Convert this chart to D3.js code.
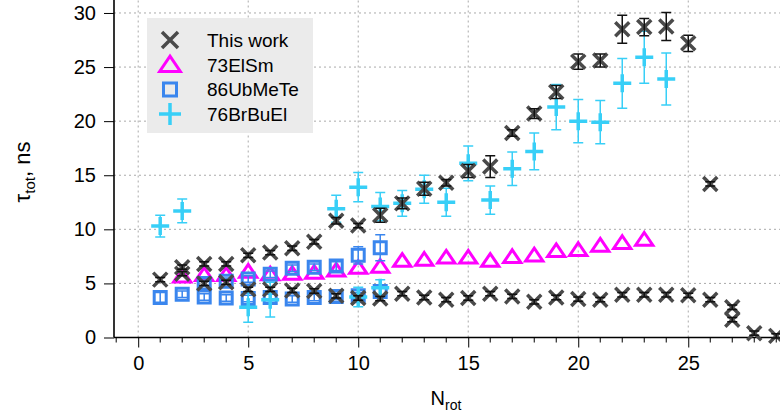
<!DOCTYPE html>
<html>
<head>
<meta charset="utf-8">
<script src="https://cdn.jsdelivr.net/npm/d3@7"></script>
<style>
  body { margin: 0; background: #fff; }
  text { font-family: "Liberation Sans", Arial, Helvetica, sans-serif; }
</style>
</head>
<body>
<div id="wrapper"></div>
<script>
const w = 780
const h = 412

// "This work" - upper and lower branches
const thisN = [1, 2, 3, 4, 5, 6, 7, 8, 9, 10, 11, 12, 13, 14, 15, 16, 17, 18, 19, 20, 21, 22, 23, 24, 25, 26,
  2, 3, 4, 5, 6, 7, 8, 9, 10, 11, 12, 13, 14, 15, 16, 17, 18, 19, 20, 21, 22, 23, 24, 25, 26, 27, 27, 28, 29]
const thisTau = [5.35, 6.5, 6.8, 6.8, 7.6, 7.85, 8.25, 8.85, 10.8, 10.35, 11.3, 12.4, 13.75, 14.3, 15.4, 15.8, 18.9, 20.7, 22.7, 25.5, 25.6, 28.5, 28.7, 28.75, 27.2, 14.2,
  5.9, 5.0, 5.1, 4.45, 4.45, 4.35, 4.3, 3.85, 3.65, 3.6, 4.05, 3.7, 3.5, 3.65, 4.05, 3.8, 3.3, 3.7, 3.55, 3.5, 3.95, 3.95, 3.95, 3.9, 3.5, 2.8, 1.65, 0.4, 0.15]
const thisErr = [0.2, 0.2, 0.2, 0.2, 0.2, 0.2, 0.2, 0.2, 0.3, 0.2, 0.65, 0.5, 0.6, 0.3, 0.6, 1.0, 0.3, 0.45, 0.6, 0.7, 0.6, 1.3, 0.8, 1.3, 0.75, 0.2,
  0.2, 0.2, 0.2, 0.2, 0.2, 0.2, 0.2, 0.2, 0.2, 0.2, 0.2, 0.2, 0.2, 0.2, 0.2, 0.2, 0.2, 0.2, 0.2, 0.2, 0.2, 0.2, 0.2, 0.2, 0.2, 0.2, 0.2, 0.2, 0.2]

// 73ElSm
const elsmN = [2, 3, 4, 5, 6, 7, 8, 9, 10, 11, 12, 13, 14, 15, 16, 17, 18, 19, 20, 21, 22, 23]
const elsmTau = [5.65, 5.8, 5.8, 6.1, 5.85, 5.9, 6.0, 6.2, 6.45, 6.55, 7.1, 7.2, 7.4, 7.4, 7.1, 7.45, 7.6, 8.0, 8.1, 8.5, 8.75, 9.05]

// 86UbMeTe
const ubN = [1, 2, 3, 4, 5, 6, 7, 8, 9, 10, 11, 3, 4, 5, 6, 7, 8, 9, 10, 11]
const ubTau = [3.7, 4.0, 3.75, 3.65, 3.6, 3.7, 3.55, 3.7, 3.8, 3.85, 4.25, 5.0, 5.2, 5.4, 5.85, 6.4, 6.5, 6.6, 7.6, 8.3]
const ubErr = [0.45, 0.3, 0.3, 0.3, 0.3, 0.3, 0.3, 0.3, 0.3, 0.3, 0.5, 0.3, 0.3, 0.3, 0.3, 0.3, 0.3, 0.4, 0.8, 1.2]

// 76BrBuEl
const brN = [1, 2, 5, 6, 9, 10, 10, 11, 11, 12, 13, 14, 15, 16, 17, 18, 19, 20, 21, 22, 23, 24]
const brTau = [10.3, 11.7, 2.8, 3.5, 11.9, 13.9, 3.75, 12.1, 4.6, 12.4, 13.7, 12.5, 16.1, 12.7, 15.6, 17.2, 21.3, 20.0, 19.9, 23.5, 25.9, 23.9]
const brErr = [1.0, 1.1, 1.4, 1.6, 1.25, 1.35, 0.9, 1.3, 0.75, 1.2, 1.3, 1.3, 1.6, 1.3, 1.55, 1.7, 2.1, 2.0, 2.0, 2.3, 2.4, 2.4]

const xTicks = [0, 5, 10, 15, 20, 25]
const yTicks = [0, 5, 10, 15, 20, 25, 30]
const legendNames = ['This work', '73ElSm', '86UbMeTe', '76BrBuEl']

const cThis = '#4a4a4a'
const cElsm = '#ff00ff'
const cUb = '#3a86ee'
const cBr = '#38cff7'

const x = d3.scaleLinear().domain([-1.1, 29.17]).range([114, 780])
const y = d3.scaleLinear().domain([0, 31.2]).range([337.5, 0])

const svg = d3.select('#wrapper').append('svg')
  .attr('width', w)
  .attr('height', h)

// dotted grid
svg.append('g').selectAll('line')
  .data(xTicks)
  .join('line')
  .attr('x1', d => x(d)).attr('x2', d => x(d))
  .attr('y1', y.range()[0]).attr('y2', 0)
  .attr('stroke', '#aaa').attr('stroke-width', 1).attr('stroke-dasharray', '2,3')
svg.append('g').selectAll('line')
  .data(yTicks.slice(1))
  .join('line')
  .attr('x1', x.range()[0]).attr('x2', w)
  .attr('y1', d => y(d)).attr('y2', d => y(d))
  .attr('stroke', '#aaa').attr('stroke-width', 1).attr('stroke-dasharray', '2,3')

// axes
const xAxis = svg.append('g')
  .attr('transform', `translate(0,${y.range()[0]})`)
  .call(d3.axisBottom(x).tickValues(xTicks).tickSize(10).tickPadding(8).tickFormat(d3.format('d')))
// minor ticks every unit
xAxis.append('g').selectAll('line')
  .data(d3.range(-1, 30).filter(d => d % 5 !== 0))
  .join('line')
  .attr('x1', d => x(d)).attr('x2', d => x(d))
  .attr('y1', 0).attr('y2', 5)
  .attr('stroke', '#000').attr('stroke-width', 1)

const yAxis = svg.append('g')
  .attr('transform', `translate(${x.range()[0]},0)`)
  .call(d3.axisLeft(y).tickValues(yTicks).tickSize(10).tickPadding(8))

for (const ax of [xAxis, yAxis]) {
  ax.select('.domain').attr('stroke-width', 1.6)
  ax.selectAll('.tick line').attr('stroke-width', 1)
  ax.selectAll('.tick text').style('font-size', '20px').attr('fill', '#000')
}
xAxis.select('.domain').attr('d', `M${x.range()[0]},0H${w}`)
yAxis.select('.domain').attr('d', `M0,${y.range()[0]}V0`)

// axis labels
const xl = svg.append('text')
  .attr('x', 446).attr('y', 405)
  .attr('text-anchor', 'middle')
  .style('font-size', '20px')
xl.append('tspan').text('N')
xl.append('tspan').attr('dy', 5).style('font-size', '14px').text('rot')

const yl = svg.append('text')
  .attr('transform', 'translate(30,172) rotate(-90)')
  .attr('text-anchor', 'middle')
  .style('font-size', '22px')
yl.append('tspan').text('τ')
yl.append('tspan').attr('dy', 5).style('font-size', '15px').text('tot')
yl.append('tspan').attr('dy', -5).text(', ns')

// error bars
function errorBars(ns, taus, errs, color) {
  const g = svg.append('g').attr('stroke', color).attr('stroke-width', 1.5).attr('fill', 'none')
  ns.forEach((n, i) => {
    const cx = x(n)
    const y0 = y(taus[i] - errs[i])
    const y1 = y(taus[i] + errs[i])
    g.append('path').attr('d', `M${cx},${y0}V${y1}M${cx - 5},${y0}H${cx + 5}M${cx - 5},${y1}H${cx + 5}`)
  })
}

// marker shapes
const markers = {
  cross: s => `M${-s},${-s}L${s},${s}M${-s},${s}L${s},${-s}`,
  tri: s => `M0,${-s * 0.95}L${s * 1.15},${s * 0.75}L${-s * 1.15},${s * 0.75}Z`,
  square: s => `M${-s},${-s}H${s}V${s}H${-s}Z`,
  plus: s => `M${-s},0H${s}M0,${-s}V${s}`
}

function drawPoints(ns, taus, shape, size, color, sw) {
  svg.append('g').selectAll('path')
    .data(ns.map((n, i) => [n, taus[i]]))
    .join('path')
    .attr('transform', d => `translate(${x(d[0])},${y(d[1])})`)
    .attr('d', markers[shape](size))
    .attr('fill', 'none')
    .attr('stroke', color)
    .attr('stroke-width', sw)
}

drawPoints(elsmN, elsmTau, 'tri', 7.5, cElsm, 3)
errorBars(ubN, ubTau, ubErr, cUb)
drawPoints(ubN, ubTau, 'square', 6, cUb, 3)
errorBars(brN, brTau, brErr, cBr)
drawPoints(brN, brTau, 'plus', 9, cBr, 3.5)
drawPoints(thisN, thisTau, 'cross', 7, cThis, 3.5)
errorBars(thisN, thisTau, thisErr, '#111')

// legend
const lg = svg.append('g')
lg.append('rect')
  .attr('x', 147).attr('y', 18)
  .attr('width', 166).attr('height', 115)
  .attr('fill', '#ebebeb')
const legendShapes = [['cross', 8, cThis, 3.5], ['tri', 9, cElsm, 3], ['square', 6.5, cUb, 3], ['plus', 11, cBr, 3.5]]
legendNames.forEach((name, i) => {
  const ly = 40 + i * 24.7
  const s = legendShapes[i]
  lg.append('path')
    .attr('transform', `translate(170,${ly})`)
    .attr('d', markers[s[0]](s[1]))
    .attr('fill', 'none').attr('stroke', s[2]).attr('stroke-width', s[3])
  lg.append('text')
    .attr('x', 207).attr('y', ly + 7)
    .style('font-size', '19px')
    .text(name)
})
</script>
</body>
</html>
